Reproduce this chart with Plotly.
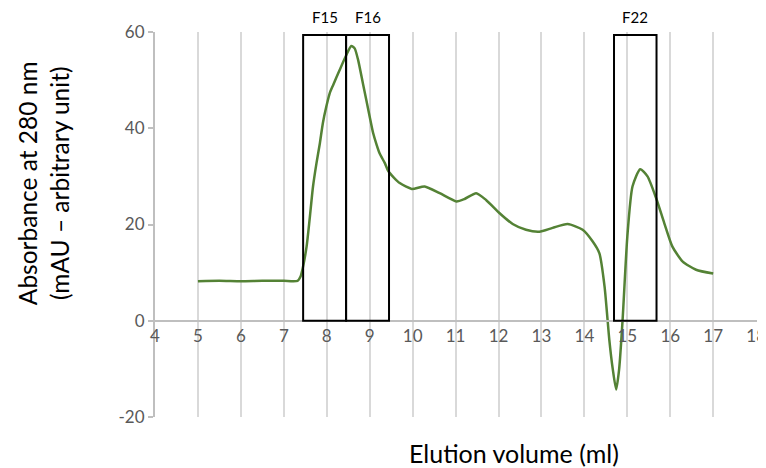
import plotly.graph_objects as go

# elution profile
volume_ml = [5.0, 5.5, 6.0, 6.5, 7.0, 7.32, 7.39, 7.44, 7.53, 7.6, 7.68, 7.76, 7.84,
             7.91, 7.99, 8.07, 8.15, 8.3, 8.44, 8.57, 8.65, 8.73, 8.84, 8.92, 9.0,
             9.08, 9.16, 9.23, 9.35, 9.44, 9.7, 9.98, 10.28,
             10.63, 11.02, 11.21, 11.48, 11.71, 12.02, 12.33, 12.64, 12.95, 13.26,
             13.61, 13.96, 14.19, 14.35, 14.47, 14.58, 14.66, 14.74, 14.81, 14.89,
             15.0, 15.12, 15.3, 15.47, 15.67, 15.86, 16.05, 16.29, 16.6, 17.0]
absorbance = [8.2, 8.3, 8.2, 8.3, 8.3, 8.3, 9.2, 10.9, 15.4, 21.0, 27.9, 32.7, 36.9,
              41.1, 44.5, 47.3, 49.0, 52.1, 54.9, 57.1, 56.6, 54.2, 49.4, 45.9, 42.4,
              39.0, 36.6, 34.8, 32.8, 31.0, 28.6, 27.4, 27.9,
              26.5, 24.8, 25.3, 26.5, 25.1, 22.4, 20.1, 18.9, 18.5, 19.3,
              20.1, 18.9, 16.5, 14.0, 7.1, -3.9, -10.0, -14.3, -10.0, 0.2,
              17.5, 27.9, 31.5, 30.0, 25.5, 20.3, 15.4, 12.3, 10.6, 9.8]

# collected fractions
fraction_names = ["F15", "F16", "F22"]
fraction_start = [7.45, 8.45, 14.69]
fraction_end = [8.45, 9.45, 15.68]
box_top = 59.4

y_ticks = [-20, 0, 20, 40, 60]
y_tick_text = ["-20", "0", "20", "40", "60"]

Y_MIN, Y_MAX = -20, 60
FONT = "Lato, 'Open Sans', sans-serif"
GRID = "#d9d9d9"
AXIS = "#bfbfbf"

fig = go.Figure()
fig.add_trace(
    go.Scatter(
        x=volume_ml,
        y=absorbance,
        mode="lines",
        line=dict(color="#548235", width=2.5, shape="spline", smoothing=0.6),
        showlegend=False,
    )
)

label_y = (63.1 - Y_MIN) / (Y_MAX - Y_MIN)
for name, x0, x1 in zip(fraction_names, fraction_start, fraction_end):
    fig.add_shape(
        type="rect", xref="x", yref="y", x0=x0, x1=x1, y0=0, y1=box_top,
        line=dict(color="black", width=2), fillcolor="rgba(0,0,0,0)",
    )
    fig.add_annotation(
        x=(x0 + x1) / 2, y=label_y, xref="x", yref="paper", text=name,
        showarrow=False, xanchor="center", yanchor="middle",
        font=dict(size=15, color="#000000", family=FONT),
    )

fig.add_annotation(
    x=-0.184, y=0.608, xref="paper", yref="paper",
    text="Absorbance at 280 nm<br>(mAU \u2013 arbitrary unit)",
    textangle=-90, showarrow=False, xanchor="center", yanchor="middle",
    font=dict(size=24.5, color="#000000", family=FONT),
)
fig.add_annotation(
    x=(514 - 155) / 602, y=-0.0935, xref="paper", yref="paper",
    text="Elution volume (ml)", showarrow=False,
    xanchor="center", yanchor="middle",
    font=dict(size=25, color="#000000", family=FONT),
)

# page body keeps an 8px margin, so the figure is 8px smaller than the window
fig.update_layout(
    width=758,
    height=460,
    margin=dict(l=147, r=9, t=24, b=51, autoexpand=False),
    paper_bgcolor="white",
    plot_bgcolor="white",
    font=dict(family=FONT, color="#595959"),
    xaxis=dict(
        range=[4, 18.02], dtick=1, tick0=4,
        anchor="free", position=0.25,
        showline=True, linecolor=AXIS, linewidth=2,
        showgrid=True, gridcolor=GRID, gridwidth=2,
        zeroline=False, ticks="", ticklabeloverflow="allow",
        tickfont=dict(size=17, color="#595959"),
    ),
    yaxis=dict(
        range=[Y_MIN, Y_MAX], tickvals=y_ticks, ticktext=y_tick_text,
        showline=True, linecolor=AXIS, linewidth=2,
        showgrid=False, zeroline=False,
        ticks="outside", ticklen=5, tickcolor=AXIS, tickwidth=1.5,
        tickfont=dict(size=17, color="#595959"),
    ),
)

fig.write_html("out.html")
